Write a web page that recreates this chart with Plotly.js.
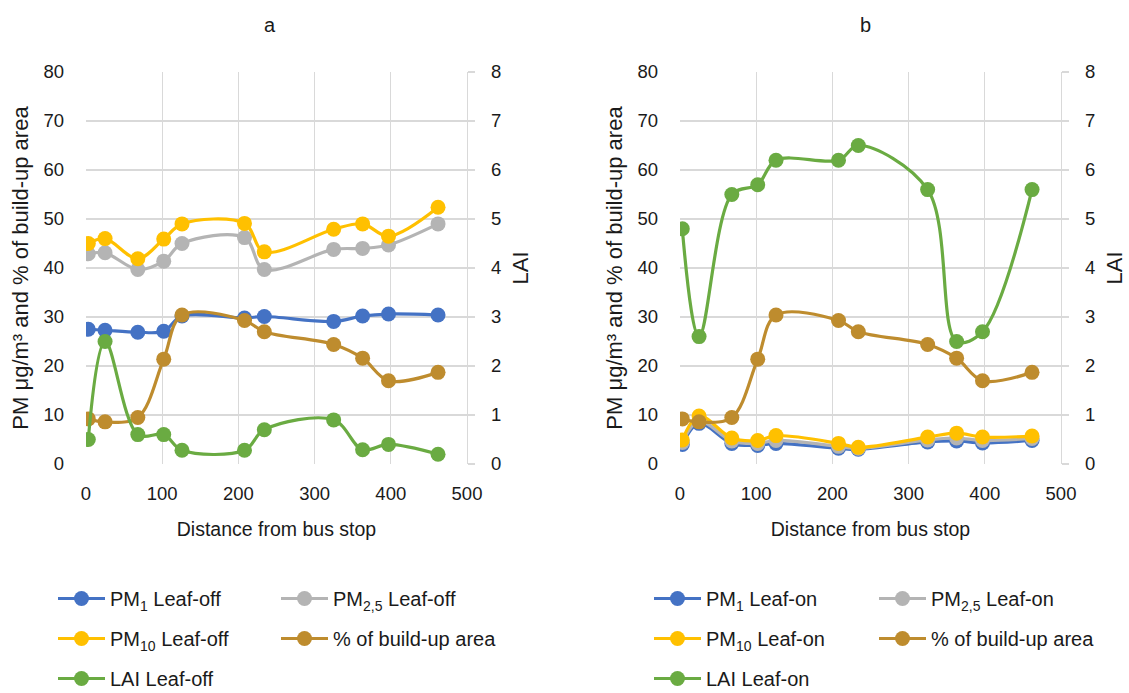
<!DOCTYPE html>
<html><head><meta charset="utf-8">
<script src="https://cdn.plot.ly/plotly-3.0.1.min.js"></script>
<style>html,body{margin:0;padding:0;background:#fff}</style>
</head><body><div id="chart" style="width:1129px;height:693px"></div>
<script>
// Distance from bus stop (m)
const distance = [3, 25, 68, 102, 126, 208, 234, 325, 363, 397, 462];

// Panel a: leaf-off
const pm1Off  = [27.5, 27.3, 26.9, 27.1, 30.2, 29.8, 30.1, 29.1, 30.2, 30.6, 30.4];
const pm25Off = [42.9, 43.1, 39.7, 41.4, 45.0, 46.2, 39.7, 43.8, 44.0, 44.7, 49.0];
const pm10Off = [45.0, 46.0, 41.9, 45.9, 49.0, 49.1, 43.3, 47.9, 49.0, 46.5, 52.4];
const builtUp = [9.2, 8.6, 9.5, 21.4, 30.4, 29.3, 27.0, 24.4, 21.6, 17.0, 18.7];
const laiOff  = [0.5, 2.5, 0.6, 0.6, 0.28, 0.28, 0.7, 0.9, 0.29, 0.4, 0.2];

// Panel b: leaf-on
const pm1On  = [4.0, 8.3, 4.2, 3.8, 4.2, 3.2, 3.0, 4.5, 4.7, 4.3, 4.8];
const pm25On = [4.4, 8.8, 4.7, 4.2, 4.8, 3.6, 3.2, 4.9, 5.3, 4.8, 5.2];
const pm10On = [4.9, 9.8, 5.3, 4.8, 5.8, 4.2, 3.4, 5.5, 6.3, 5.5, 5.7];
const laiOn  = [4.8, 2.6, 5.5, 5.7, 6.2, 6.2, 6.5, 5.6, 2.5, 2.7, 5.6];

// Tick values
const yTicks = [0, 10, 20, 30, 40, 50, 60, 70, 80];
const y2Ticks = [0, 1, 2, 3, 4, 5, 6, 7, 8];
const xTicks = [0, 100, 200, 300, 400, 500];

const C = {blue:'#4472C4', gray:'#B4B4B4', gold:'#FFC000', brown:'#BE8C2E', green:'#6AAB42'};
const FONT = '"Liberation Sans", Arial, sans-serif';
const INK = '#1a1a1a';

function tr(y, name, color, xa, ya, legend, group) {
  return {
    x: distance, y: y, name: name, type: 'scatter', mode: 'lines+markers',
    xaxis: xa, yaxis: ya, legend: legend, legendgroup: group,
    line: {color: color, width: 3.2, shape: 'spline', smoothing: 1},
    marker: {color: color, size: 15}
  };
}

const data = [
  tr(pm1Off, 'PM<sub>1</sub> Leaf-off', C.blue, 'x', 'y', 'legend', 'a1'),
  tr(pm25Off, 'PM<sub>2,5</sub> Leaf-off', C.gray, 'x', 'y', 'legend2', 'a2'),
  tr(pm10Off, 'PM<sub>10</sub> Leaf-off', C.gold, 'x', 'y', 'legend', 'a3'),
  tr(builtUp, '% of build-up area', C.brown, 'x', 'y', 'legend2', 'a4'),
  tr(laiOff, 'LAI Leaf-off', C.green, 'x', 'y2', 'legend', 'a5'),
  tr(pm1On, 'PM<sub>1</sub> Leaf-on', C.blue, 'x2', 'y3', 'legend3', 'b1'),
  tr(pm25On, 'PM<sub>2,5</sub> Leaf-on', C.gray, 'x2', 'y3', 'legend4', 'b2'),
  tr(pm10On, 'PM<sub>10</sub> Leaf-on', C.gold, 'x2', 'y3', 'legend3', 'b3'),
  tr(builtUp, '% of build-up area', C.brown, 'x2', 'y3', 'legend4', 'b4'),
  tr(laiOn, 'LAI Leaf-on', C.green, 'x2', 'y4', 'legend3', 'b5')
];

const W = 1129, H = 693;
const px = v => v / W, py = v => 1 - v / H;
const grid = '#D9D9D9';
const tickFont = {family: FONT, size: 18.5, color: INK};

function xAxis(domain, anchor) {
  return {domain: domain, anchor: anchor, range: [0, 500], tickvals: xTicks, automargin: false,
    showgrid: true, gridcolor: grid, gridwidth: 1.3, zeroline: false, showline: false,
    ticks: '', tickfont: tickFont, ticklabelstandoff: 16,
    title: {text: 'Distance from bus stop', font: {family: FONT, size: 19.5, color: INK}, standoff: 19}};
}
function yAxis(domain, anchor) {
  return {domain: domain, anchor: anchor, range: [0, 80], tickvals: yTicks, automargin: false,
    showgrid: true, gridcolor: grid, gridwidth: 1.3, zeroline: false, showline: false,
    ticks: '', tickfont: tickFont, ticklabelstandoff: 21,
    title: {text: 'PM μg/m³ and % of build-up area', font: {family: FONT, size: 22, color: INK}, standoff: 8}};
}
function y2Axis(overlay, anchor) {
  return {overlaying: overlay, anchor: anchor, side: 'right', range: [0, 8], tickvals: y2Ticks, automargin: false,
    showgrid: false, zeroline: false, showline: true, linecolor: grid, linewidth: 1.3,
    ticks: 'outside', ticklen: 7, tickcolor: grid, tickwidth: 1.3,
    tickfont: tickFont, ticklabelstandoff: 12,
    title: {text: 'LAI', font: {family: FONT, size: 22, color: INK}, standoff: 12}};
}

const yDom = [1 - 464 / H, 1 - 72 / H];
const legFont = {family: FONT, size: 20, color: INK};
function leg(x, y) {
  return {x: px(x), y: py(y), xanchor: 'left', yanchor: 'top', orientation: 'v',
    traceorder: 'grouped', tracegroupgap: 11, font: legFont, bgcolor: 'rgba(0,0,0,0)',
    itemwidth: 47};
}

const layout = {
  width: W, height: H, margin: {l: 0, r: 0, t: 0, b: 0, autoexpand: false},
  paper_bgcolor: '#fff', plot_bgcolor: '#fff', showlegend: true,
  font: {family: FONT, color: INK},
  xaxis: xAxis([px(86), px(467)], 'y'),
  yaxis: yAxis(yDom, 'x'),
  yaxis2: y2Axis('y', 'x'),
  xaxis2: xAxis([px(680), px(1061)], 'y3'),
  yaxis3: yAxis(yDom, 'x2'),
  yaxis4: y2Axis('y3', 'x2'),
  legend: leg(53, 579),
  legend2: leg(276, 579),
  legend3: leg(649, 579),
  legend4: leg(874, 579),
  annotations: [
    {text: 'a', x: px(270), y: py(25), xref: 'paper', yref: 'paper', xanchor: 'center', yanchor: 'middle', showarrow: false,
     font: {family: FONT, size: 20, color: INK}},
    {text: 'b', x: px(865), y: py(25), xref: 'paper', yref: 'paper', xanchor: 'center', yanchor: 'middle', showarrow: false,
     font: {family: FONT, size: 20, color: INK}}
  ]
};

Plotly.newPlot('chart', data, layout, {displayModeBar: false, staticPlot: true});
</script></body></html>
